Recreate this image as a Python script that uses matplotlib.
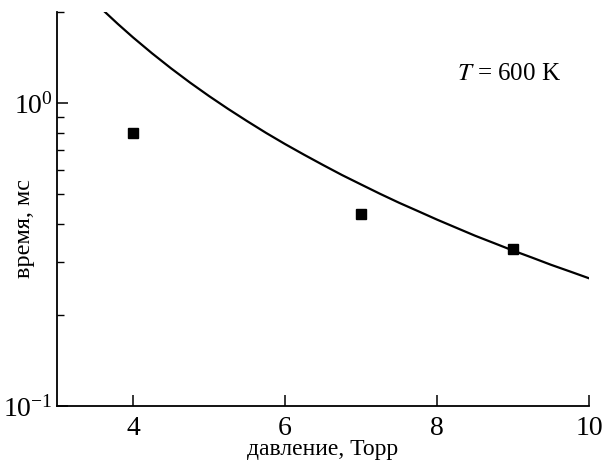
import matplotlib
matplotlib.use("Agg")
import matplotlib.pyplot as plt
from matplotlib.ticker import LogLocator, NullFormatter

plt.rcParams['font.family'] = ['Liberation Serif', 'DejaVu Serif']
plt.rcParams['mathtext.fontset'] = 'stix'

# measured points
pressure = [4, 7, 9]
time_ms = [0.80, 0.43, 0.33]

# curve
curve_p = [3.63, 3.8, 4.0, 4.25, 4.5, 4.75, 5.0, 5.25, 5.5, 5.75, 6.0, 6.25, 6.5, 6.75,
           7.0, 7.25, 7.5, 7.75, 8.0, 8.25, 8.5, 8.75, 9.0, 9.25, 9.5, 9.75, 10.0]
curve_t = [2.003, 1.828, 1.650, 1.462, 1.304, 1.170, 1.056, 0.958, 0.873, 0.798, 0.733, 0.676,
           0.625, 0.579, 0.539, 0.502, 0.469, 0.440, 0.4125, 0.388, 0.365, 0.345, 0.326,
           0.309, 0.2925, 0.278, 0.264]

xticks = [4, 6, 8, 10]

fig = plt.figure(figsize=(6.03, 4.65), dpi=100)
ax = fig.add_axes([0.0945, 0.127, 0.8825, 0.847])

ax.plot(curve_p, curve_t, color='black', lw=1.6)
ax.plot(pressure, time_ms, ls='none', marker='s', ms=6.5, color='black')

ax.set_yscale('log')
ax.set_xlim(3, 10)
ax.set_ylim(0.1, 2.0)
ax.set_xticks(xticks)
ax.set_xticklabels([str(v) for v in xticks])
ax.yaxis.set_major_locator(LogLocator(base=10, numticks=5))
ax.yaxis.set_minor_locator(LogLocator(base=10, subs=range(2, 10), numticks=20))
ax.yaxis.set_minor_formatter(NullFormatter())

for s in ['top', 'right']:
    ax.spines[s].set_visible(False)
for s in ['left', 'bottom']:
    ax.spines[s].set_linewidth(1.3)

ax.tick_params(which='major', direction='in', length=8, width=1.1, labelsize=20)
ax.tick_params(which='minor', direction='in', length=5, width=1.0)
ax.tick_params(axis='x', pad=7)
ax.tick_params(axis='y', pad=3)

ax.set_xlabel('давление, Торр', fontsize=17, labelpad=-1)
ax.set_ylabel('время, мс', fontsize=17.5)
ax.yaxis.set_label_coords(-0.042, 0.45)

ax.text(8.26, 1.19, '$T$ = 600 K', fontsize=18, va='baseline', ha='left')

fig.savefig('out.png', dpi=100)
